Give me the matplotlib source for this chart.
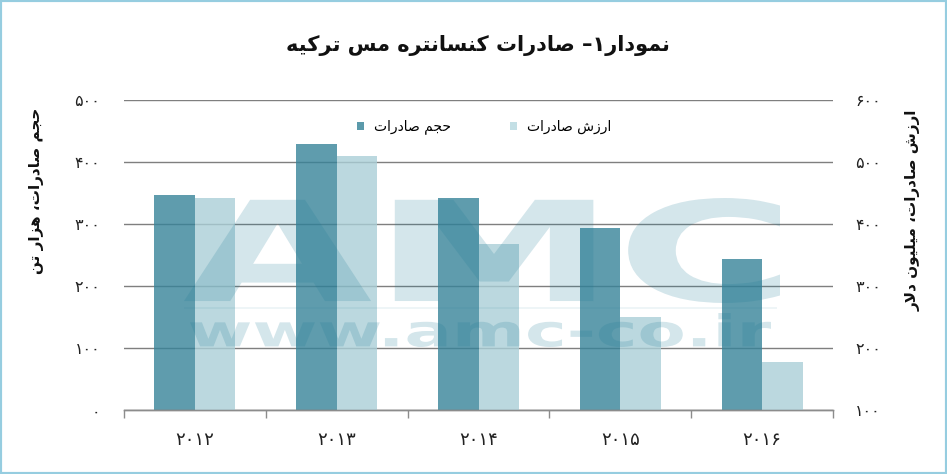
import matplotlib
matplotlib.use("Agg")
import matplotlib.pyplot as plt
import numpy as np
from matplotlib.textpath import TextPath
from matplotlib.font_manager import FontProperties
from matplotlib.patches import PathPatch, Rectangle
from matplotlib.transforms import Affine2D, IdentityTransform
from matplotlib.patches import Patch

# ---------------- data ----------------
years = ['۲۰۱۲', '۲۰۱۳', '۲۰۱۴', '۲۰۱۵', '۲۰۱۶']
volume = [347, 430, 342, 294, 244]      # thousand tons (left axis)
value = [442, 510, 369, 250, 178]       # million dollars (right axis)
left_ticks = [0, 100, 200, 300, 400, 500]
right_ticks = [100, 200, 300, 400, 500, 600]

title_txt = 'نمودار۱– صادرات کنسانتره مس ترکیه'
vol_label = 'حجم صادرات'
val_label = 'ارزش صادرات'
left_title = 'حجم صادرات، هزار تن'
right_title = 'ارزش صادرات، میلیون دلار'

# ---------------- minimal Arabic/Persian shaping ----------------
FORMS = {
    '\u0627': ('\uFE8D', '\uFE8E', None, None),
    '\u062A': ('\uFE95', '\uFE96', '\uFE97', '\uFE98'),
    '\u062C': ('\uFE9D', '\uFE9E', '\uFE9F', '\uFEA0'),
    '\u062D': ('\uFEA1', '\uFEA2', '\uFEA3', '\uFEA4'),
    '\u062F': ('\uFEA9', '\uFEAA', None, None),
    '\u0631': ('\uFEAD', '\uFEAE', None, None),
    '\u0632': ('\uFEAF', '\uFEB0', None, None),
    '\u0633': ('\uFEB1', '\uFEB2', '\uFEB3', '\uFEB4'),
    '\u0634': ('\uFEB5', '\uFEB6', '\uFEB7', '\uFEB8'),
    '\u0635': ('\uFEB9', '\uFEBA', '\uFEBB', '\uFEBC'),
    '\u0644': ('\uFEDD', '\uFEDE', '\uFEDF', '\uFEE0'),
    '\u0645': ('\uFEE1', '\uFEE2', '\uFEE3', '\uFEE4'),
    '\u0646': ('\uFEE5', '\uFEE6', '\uFEE7', '\uFEE8'),
    '\u0647': ('\uFEE9', '\uFEEA', '\uFEEB', '\uFEEC'),
    '\u0648': ('\uFEED', '\uFEEE', None, None),
    '\u06A9': ('\uFB8E', '\uFB8F', '\uFB90', '\uFB91'),
    '\u06CC': ('\uFBFC', '\uFBFD', '\uFBFE', '\uFBFF'),
}


def shape(s):
    chars = list(s)
    n = len(chars)
    res = []

    def dual(c):
        return c in FORMS and FORMS[c][2] is not None

    i = 0
    while i < n:
        c = chars[i]
        if c not in FORMS:
            res.append(c)
            i += 1
            continue
        prev = chars[i - 1] if i > 0 else None
        cp = prev is not None and dual(prev)
        if c == '\u0644' and i + 1 < n and chars[i + 1] == '\u0627':
            res.append('\uFEFC' if cp else '\uFEFB')
            i += 2
            continue
        nxt = chars[i + 1] if i + 1 < n else None
        cn = dual(c) and nxt is not None and nxt in FORMS
        iso, fin, ini, med = FORMS[c]
        if cp and cn:
            g = med
        elif cp:
            g = fin
        elif cn:
            g = ini
        else:
            g = iso
        res.append(g)
        i += 1
    return ''.join(reversed(res))


PDIG = str.maketrans('0123456789', '۰۱۲۳۴۵۶۷۸۹')


def pdig(v):
    return str(v).translate(PDIG)


# ---------------- figure ----------------
W, H = 947, 474
plt.rcParams['font.family'] = ['DejaVu Sans']
fig = plt.figure(figsize=(W / 100, H / 100), dpi=100)
fig.patch.set_facecolor('white')

ax = fig.add_axes([124 / W, 1 - 410.3 / H, (833 - 124) / W, (410.3 - 100.3) / H])
ax2 = ax.twinx()

dark = '#378399'
light = '#aacfd7'
x = np.arange(len(years))
bw = 0.285

ax.set_axisbelow(True)
ax.yaxis.grid(True, color='#7f7f7f', linewidth=1.0)
ax.bar(x - bw / 2, volume, width=bw, color=dark, alpha=0.8, zorder=2)
ax2.bar(x + bw / 2, value, width=bw, color=light, alpha=0.8, zorder=2)

ax.set_xlim(-0.5, len(years) - 0.5)
ax.set_ylim(0, 500)
ax2.set_ylim(100, 600)
ax.set_yticks(left_ticks)
ax.set_yticklabels([pdig(t) for t in left_ticks])
ax2.set_yticks(right_ticks)
ax2.set_yticklabels([pdig(t) for t in right_ticks])

for a in (ax, ax2):
    for s in ('left', 'right', 'top'):
        a.spines[s].set_visible(False)
    a.spines['bottom'].set_color('#8c8c8c')
    a.spines['bottom'].set_linewidth(1.0)

ax.tick_params(axis='y', length=0, pad=17, labelsize=11.5, labelcolor='#222222')
ax2.tick_params(axis='y', length=0, pad=16, labelsize=11.5, labelcolor='#222222')

ax.set_xticks(np.arange(len(years) + 1) - 0.5)
ax.set_xticklabels([])
ax.tick_params(axis='x', which='major', length=6, width=1.0, color='#8c8c8c', direction='out')
ax.set_xticks(x, minor=True)
ax.set_xticklabels(years, minor=True)
ax.tick_params(axis='x', which='minor', length=0, pad=15, labelsize=13, labelcolor='#222222')
ax2.tick_params(axis='x', length=0)

# title
fig.text(478 / W, 1 - 45 / H, shape(title_txt), ha='center', va='center',
         fontsize=15, fontweight='bold', color='#111111')

# axis titles
fig.text(37 / W, 1 - 191 / H, shape(left_title), rotation=90, ha='center', va='center',
         fontsize=11, fontweight='bold', color='#111111')
fig.text(913 / W, 1 - 210 / H, shape(right_title), rotation=90, ha='center', va='center',
         fontsize=11, fontweight='bold', color='#111111')

# legend
handles = [Patch(facecolor='#5b9aab', edgecolor='none'), Patch(facecolor='#c3dfe5', edgecolor='none')]
fig.legend(handles, [shape(vol_label), shape(val_label)], loc='center',
           bbox_to_anchor=(484 / W, 1 - 127 / H), ncol=2, frameon=False,
           fontsize=10, handlelength=0.55, handleheight=0.55, handletextpad=0.7,
           columnspacing=4.2)


# watermark
def fit_text(s, x0, y0, x1, y1, color, alpha):
    tp = TextPath((0, 0), s, size=100,
                  prop=FontProperties(family='DejaVu Sans', weight='bold'))
    ext = tp.get_extents()
    sx = (x1 - x0) / ext.width
    sy = (y1 - y0) / ext.height
    tr = Affine2D().translate(-ext.x0, -ext.y0).scale(sx, sy).translate(x0, H - y1)
    path = tr.transform_path(tp)
    fig.add_artist(PathPatch(path, facecolor=color, edgecolor='none', alpha=alpha,
                             transform=IdentityTransform(), zorder=10))


wm = '#1c7b96'
fit_text('AMC', 184, 198, 780, 303, wm, 0.19)
fit_text('www.amc-co.ir', 190, 313, 771, 347, wm, 0.19)
fig.add_artist(Rectangle((184, H - 308.5), 593, 2, facecolor=wm, edgecolor='none',
                         alpha=0.07, transform=IdentityTransform(), zorder=10))

# border
fig.add_artist(Rectangle((0, 0), 1, 1, transform=fig.transFigure, fill=False,
                         edgecolor='#96cde0', linewidth=3, zorder=20))

fig.savefig('out.png', dpi=100, facecolor='white')
